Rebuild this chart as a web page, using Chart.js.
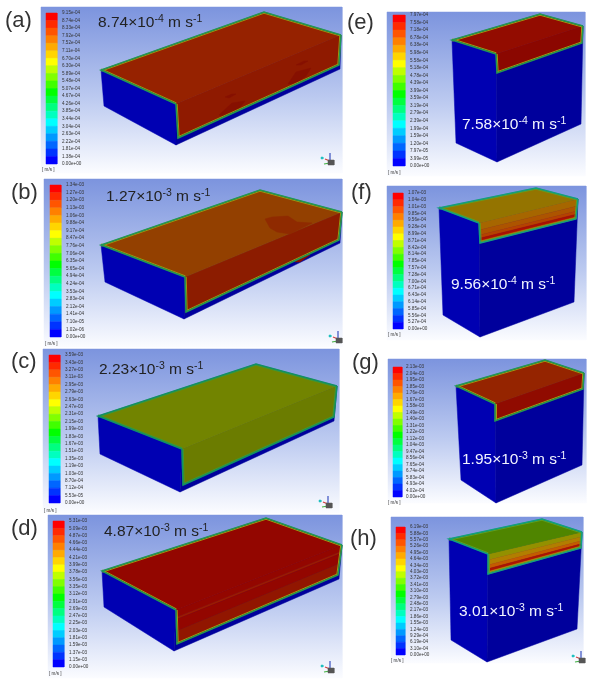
<!DOCTYPE html>
<html>
<head>
<meta charset="utf-8">
<style>
html, body { margin: 0; padding: 0; background: #fff; }
#myChart { display: block; filter: blur(0.45px); }
</style>
<script src="https://cdn.jsdelivr.net/npm/chart.js@4"></script>
</head>
<body>
<canvas id="myChart" width="600" height="683"></canvas>
<script>
// colour bar tick labels
const ticksA = ['9.15e-04','8.74e-04','8.33e-04','7.92e-04','7.52e-04','7.11e-04','6.70e-04','6.30e-04','5.89e-04','5.48e-04','5.07e-04','4.67e-04','4.26e-04','3.85e-04','3.44e-04','3.04e-04','2.63e-04','2.22e-04','1.81e-04','1.38e-04','0.00e+00'];
const ticksB = ['1.34e-03','1.27e-03','1.20e-03','1.13e-03','1.06e-03','9.88e-04','9.17e-04','8.47e-04','7.76e-04','7.06e-04','6.35e-04','5.65e-04','4.94e-04','4.24e-04','3.53e-04','2.83e-04','2.12e-04','1.41e-04','7.10e-05','1.02e-06','0.00e+00'];
const ticksC = ['3.59e-03','3.43e-03','3.27e-03','3.11e-03','2.95e-03','2.79e-03','2.63e-03','2.47e-03','2.31e-03','2.15e-03','1.99e-03','1.83e-03','1.67e-03','1.51e-03','1.35e-03','1.19e-03','1.03e-03','8.70e-04','7.12e-04','5.53e-05','0.00e+00'];
const ticksD = ['5.31e-03','5.09e-03','4.87e-03','4.66e-03','4.44e-03','4.21e-03','3.99e-03','3.78e-03','3.56e-03','3.35e-03','3.12e-03','2.91e-03','2.69e-03','2.47e-03','2.25e-03','2.03e-03','1.81e-03','1.59e-03','1.37e-03','1.15e-03','0.00e+00'];
const ticksE = ['7.97e-04','7.58e-04','7.18e-04','6.78e-04','6.38e-04','5.98e-04','5.58e-04','5.18e-04','4.78e-04','4.39e-04','3.99e-04','3.59e-04','3.19e-04','2.79e-04','2.39e-04','1.99e-04','1.59e-04','1.20e-04','7.97e-05','3.99e-05','0.00e+00'];
const ticksF = ['1.07e-03','1.04e-03','1.01e-03','9.85e-04','9.56e-04','9.28e-04','8.99e-04','8.71e-04','8.42e-04','8.14e-04','7.85e-04','7.57e-04','7.28e-04','7.00e-04','6.71e-04','6.43e-04','6.14e-04','5.85e-04','5.56e-04','5.27e-04','0.00e+00'];
const ticksG = ['2.13e-03','2.04e-03','1.95e-03','1.85e-03','1.76e-03','1.67e-03','1.58e-03','1.49e-03','1.40e-03','1.31e-03','1.22e-03','1.12e-03','1.04e-03','9.47e-04','8.56e-04','7.65e-04','6.74e-04','5.83e-04','4.93e-04','4.02e-04','0.00e+00'];
const ticksH = ['6.19e-03','5.88e-03','5.57e-03','5.26e-03','4.95e-03','4.64e-03','4.34e-03','4.03e-03','3.72e-03','3.41e-03','3.10e-03','2.79e-03','2.48e-03','2.17e-03','1.86e-03','1.55e-03','1.24e-03','9.29e-04','6.19e-04','3.10e-04','0.00e+00'];

// colour bar bands, top to bottom
const bandColors = ['#ff0000','#ff2a00','#ff5500','#ff8000','#ffaa00','#ffd500','#ffff00','#bfff00','#80ff00','#40ff00','#00ff00','#00ff40','#00ff80','#00ffbf','#00ffff','#00ccff','#0099ff','#0066ff','#0033ff','#0000ff'];

// panel letters and the velocity written on each one
const panelNames = ['(a)','(b)','(c)','(d)','(e)','(f)','(g)','(h)'];
const speedValues = ['8.74','1.27','2.23','4.87','7.58','9.56','1.95','3.01'];
const speedExps = ['-4','-3','-3','-3','-4','-4','-3','-3'];

// geometry of each picture, in canvas units of the two scales
const panels = [
  { ticks: ticksA, bg: [41,7,342,173], bar: [46,13,57,164], tickX: 62, unit: [42,170], name: [5,27], speed: [98,27], ink: '#222',
    A:[101,70], B:[264,12], C:[341,35], D:[176,104], E:[176,145], F:[340,69], G:[104,106], H:[178,138], I:[339,65],
    top: '#962200', bands: [[0,'#8f1a00'],[1,'#8f1a00']], edge: '#1f9a55', inner: '#9a9a10', triad: [330,160],
    patches: [{ c:'#861000', p:[[219,115],[232,103],[245,101],[238,110],[226,116]] },{ c:'#861000', p:[[288,84],[296,72],[311,68],[306,76],[295,84]] },{ c:'#861000', p:[[225,97],[232,94],[236,94],[229,98]] },{ c:'#861000', p:[[296,65],[304,61],[308,61],[301,65]] }] },
  { ticks: ticksB, bg: [44,179,342,347], bar: [50,185,61,337], tickX: 66, unit: [45,344], name: [11,199], speed: [106,201], ink: '#222',
    A:[101,245], B:[260,190], C:[342,212], D:[185,277], E:[184,319], F:[340,243], G:[105,282], H:[186,312], I:[339,240],
    top: '#934000', bands: [[0,'#8c1c00'],[1,'#8c1c00']], edge: '#1f9a55', inner: '#9a9a10', triad: [338,338],
    patches: [{ c:'#8f2a00', p:[[265,219],[272,217],[288,216],[297,222],[312,223],[290,234],[277,232],[270,228]] },{ c:'#841000', p:[[295,262],[305,254],[310,255],[300,262]] }] },
  { ticks: ticksC, bg: [43,349,339,513], bar: [49,355,60,503], tickX: 65, unit: [44,511], name: [11,368], speed: [99,374], ink: '#222',
    A:[98,416], B:[256,364], C:[337,386], D:[182,449], E:[180,492], F:[334,421], G:[100,454], H:[183,485], I:[334,417],
    top: '#728400', bands: [[0,'#6b7c00'],[1,'#6b7c00']], edge: '#0f9068', inner: '#3f9a30', triad: [328,503], patches: [] },
  { ticks: ticksD, bg: [48,515,342,678], bar: [53,521,64,667], tickX: 69, unit: [49,674], name: [11,535], speed: [104,536], ink: '#222',
    A:[102,571], B:[266,518], C:[342,545], D:[176,610], E:[174,651], F:[339,579], G:[104,607], H:[177,644], I:[338,575],
    top: '#930600', bands: [[0,'#930600'],[0.22,'#9c1c00'],[0.28,'#930600'],[0.62,'#911600'],[1,'#911600']], edge: '#1f9a55', inner: '#a0a010', triad: [330,668], patches: [] },
  { ticks: ticksE, bg: [387,12,585,176], bar: [393,15,405,166], tickX: 410, unit: [388,173], name: [347,29], speed: [462,129], ink: '#f2f4ff',
    A:[452,40], B:[540,14], C:[583,26], D:[496,54], E:[497,162], F:[581,124], G:[456,143], H:[497,73], I:[582,43],
    top: '#930c00', bands: [[0,'#8b0700'],[1,'#8b0700']], edge: '#1f9a55', inner: '#a0a010', triad: null, patches: [] },
  { ticks: ticksF, bg: [387,186,586,340], bar: [393,193,403,329], tickX: 408, unit: [388,335], name: [351,199], speed: [451,289], ink: '#f2f4ff',
    A:[439,208], B:[536,188], C:[578,199], D:[479,223], E:[480,337], F:[574,302], G:[443,315], H:[480,243], I:[576,219],
    top: '#947400', bands: [[0,'#a66600'],[0.35,'#ad5400'],[0.6,'#b54200'],[0.76,'#aa1000'],[0.9,'#c87800'],[1,'#c87800']], edge: '#10a080', inner: '#60a020', triad: null, patches: [] },
  { ticks: ticksG, bg: [388,359,586,503], bar: [393,367,402,497], tickX: 406, unit: [388,503], name: [352,369], speed: [462,464], ink: '#f2f4ff',
    A:[456,386], B:[545,360], C:[584,373], D:[495,404], E:[496,503], F:[582,465], G:[461,480], H:[495,421], I:[583,389],
    top: '#952400', bands: [[0,'#900b00'],[1,'#900b00']], edge: '#1f9a55', inner: '#a0a010', triad: null, patches: [] },
  { ticks: ticksH, bg: [391,517,583,663], bar: [396,527,405,655], tickX: 410, unit: [391,661], name: [350,545], speed: [459,616], ink: '#f2f4ff',
    A:[449,539], B:[542,519], C:[582,532], D:[488,554], E:[487,662], F:[577,629], G:[451,640], H:[488,574], I:[581,548],
    top: '#4f8500', bands: [[0,'#939000'],[0.3,'#b27e00'],[0.55,'#c45c00'],[0.74,'#ad1400'],[0.88,'#c88800'],[1,'#c88800']], edge: '#10a080', inner: '#60a020', triad: [581,658], patches: [] }
];

const canvas = document.getElementById('myChart');
const ctx = canvas.getContext('2d');
const datasets = [];

function toPoints(list) {
  return list.map(function(p) { return { x: p[0], y: p[1] }; });
}

// closed filled shape
function addPolygon(list, color) {
  datasets.push({
    data: toPoints(list.concat([list[0]])),
    showLine: true, fill: 'shape', tension: 0,
    backgroundColor: color, borderColor: color, borderWidth: 0.5, pointRadius: 0,
    order: -datasets.length
  });
}

function addLine(list, color, width) {
  datasets.push({
    data: toPoints(list),
    showLine: true, fill: false, tension: 0,
    borderColor: color, borderWidth: width, pointRadius: 0,
    order: -datasets.length
  });
}

function mix(p, q, t) {
  return [p[0] + (q[0] - p[0]) * t, p[1] + (q[1] - p[1]) * t];
}

// same line moved d units towards the middle of the face
function addOffsetLine(list, face, d, color, width) {
  const mx = face.reduce(function(s, p) { return s + p[0]; }, 0) / face.length;
  const my = face.reduce(function(s, p) { return s + p[1]; }, 0) / face.length;
  for (let i = 0; i < list.length - 1; i++) {
    const p = list[i], q = list[i + 1];
    const len = Math.hypot(q[0] - p[0], q[1] - p[1]);
    let nx = -(q[1] - p[1]) / len, ny = (q[0] - p[0]) / len;
    if (nx * (mx - p[0]) + ny * (my - p[1]) < 0) { nx = -nx; ny = -ny; }
    addLine([[p[0] + nx * d, p[1] + ny * d], [q[0] + nx * d, q[1] + ny * d]], color, width);
  }
}

function addTriad(t) {
  const x = t[0], y = t[1];
  addLine([[x, y - 7], [x, y + 5]], '#3a50c0', 1.2);
  addLine([[x, y + 3], [x - 6, y + 4]], '#40b040', 1.2);
  addLine([[x, y + 1], [x - 5, y - 1]], '#d04040', 1.2);
  addPolygon([[x - 2, y], [x + 4, y], [x + 4, y + 5], [x - 2, y + 5]], '#555');
  addPolygon([[x - 9, y - 3], [x - 7, y - 3], [x - 7, y - 1], [x - 9, y - 1]], '#20c0c0');
}

panels.forEach(function(p) {
  const g = ctx.createLinearGradient(0, p.bg[1], 0, p.bg[3]);
  g.addColorStop(0, '#7c94de');
  g.addColorStop(0.55, '#bccaf0');
  g.addColorStop(1, '#fbfcff');
  addPolygon([[p.bg[0], p.bg[1]], [p.bg[2], p.bg[1]], [p.bg[2], p.bg[3]], [p.bg[0], p.bg[3]]], g);

  // colour bar
  const step = (p.bar[3] - p.bar[1]) / bandColors.length;
  bandColors.forEach(function(c, i) {
    const y0 = p.bar[1] + step * i;
    addPolygon([[p.bar[0], y0], [p.bar[2], y0], [p.bar[2], y0 + step], [p.bar[0], y0 + step]], c);
  });

  // solid walls
  addPolygon([p.A, p.D, p.E, p.G], '#0000b2');
  addPolygon([p.D, p.C, p.F, p.E], '#00009c');

  // fluid, front face bands then top face
  for (let i = 0; i < p.bands.length - 1; i++) {
    const t0 = p.bands[i][0], t1 = p.bands[i + 1][0];
    addPolygon([mix(p.D, p.H, t0), mix(p.C, p.I, t0), mix(p.C, p.I, t1), mix(p.D, p.H, t1)], p.bands[i][1]);
  }
  addPolygon([p.A, p.B, p.C, p.D], p.top);
  p.patches.forEach(function(s) { addPolygon(s.p, s.c); });

  // thin boundary layer round the fluid, green outside and yellower inside
  const topFace = [p.A, p.B, p.C, p.D];
  const frontFace = [p.D, p.C, p.I, p.H];
  addOffsetLine([p.D, p.A, p.B, p.C], topFace, 1.2, p.inner, 1);
  addOffsetLine([p.D, p.H, p.I, p.C], frontFace, 1.2, p.inner, 1);
  addLine([p.D, p.A, p.B, p.C], p.edge, 1.5);
  addLine([p.D, p.H, p.I, p.C], p.edge, 1.5);
  if (p.triad) addTriad(p.triad);
});

// velocity text with raised exponents
function drawSpeed(c, x, y, p, i) {
  const parts = [[speedValues[i] + '\u00d710', 0], [speedExps[i], 1], [' m s', 0], ['-1', 1]];
  c.fillStyle = p.ink;
  parts.forEach(function(part) {
    c.font = (part[1] ? 10.5 : 15.5) + 'px "Liberation Sans"';
    c.fillText(part[0], x, part[1] ? y - 5.5 : y);
    x += c.measureText(part[0]).width;
  });
}

const textPlugin = {
  id: 'panelText',
  afterDatasetsDraw: function(chart) {
    const c = chart.ctx, sx = chart.scales.x, sy = chart.scales.y;
    c.save();
    c.textBaseline = 'alphabetic';
    panels.forEach(function(p, i) {
      c.textAlign = 'left';
      c.fillStyle = '#333';
      c.font = '22px "Liberation Sans"';
      c.fillText(panelNames[i], sx.getPixelForValue(p.name[0]), sy.getPixelForValue(p.name[1]));

      drawSpeed(c, sx.getPixelForValue(p.speed[0]), sy.getPixelForValue(p.speed[1]), p, i);

      c.fillStyle = '#333';
      c.font = '4.6px "Liberation Sans"';
      c.textBaseline = 'middle';
      const step = (p.bar[3] - p.bar[1]) / (p.ticks.length - 1);
      p.ticks.forEach(function(t, k) {
        c.fillText(t, sx.getPixelForValue(p.tickX), sy.getPixelForValue(p.bar[1] + step * k));
      });
      c.fillText('[ m/s ]', sx.getPixelForValue(p.unit[0]), sy.getPixelForValue(p.unit[1]));
      c.textBaseline = 'alphabetic';
    });
    c.restore();
  }
};

new Chart(ctx, {
  type: 'scatter',
  data: { datasets: datasets },
  options: {
    responsive: false,
    animation: false,
    devicePixelRatio: 1,
    layout: { padding: 0 },
    events: [],
    plugins: { legend: { display: false }, tooltip: { enabled: false } },
    scales: {
      x: { type: 'linear', min: 0, max: 600, display: false },
      y: { type: 'linear', min: 0, max: 683, reverse: true, display: false }
    }
  },
  plugins: [textPlugin]
});
</script>
</body>
</html>
